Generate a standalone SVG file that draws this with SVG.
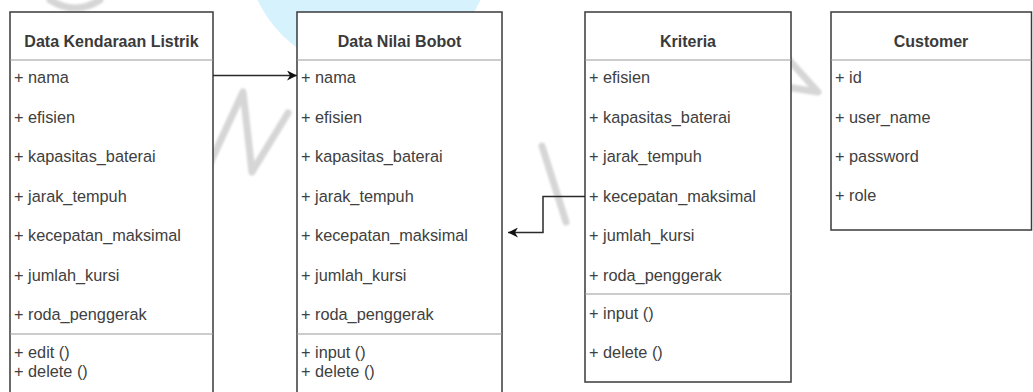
<svg xmlns="http://www.w3.org/2000/svg" width="1033" height="392" viewBox="0 0 1033 392">
  <style>
    .box { fill: #ffffff; stroke: #3a3a3a; stroke-width: 1.5; }
    .sep { stroke: #9a9a9a; stroke-width: 1.2; fill: none; }
    .title { font-family: "Liberation Sans", Arial, sans-serif; font-size: 16px; font-weight: bold; fill: #3a3a3a; text-anchor: middle; }
    .item { font-family: "Liberation Sans", Arial, sans-serif; font-size: 16.3px; fill: #404040; }
    .wm { fill: none; stroke: #d6d6d6; stroke-width: 7; stroke-linecap: round; stroke-linejoin: round; }
    .link { fill: none; stroke: #2a2a2a; stroke-width: 1.5; }
  </style>
  <defs>
    <marker id="arrow" viewBox="0 0 10 10" refX="10" refY="5" markerWidth="10" markerHeight="10" markerUnits="userSpaceOnUse" orient="auto">
      <path d="M0,0 L10,5 L0,10 L3,5 Z" fill="#111111"/>
    </marker>
    <filter id="soft" x="-10%" y="-10%" width="120%" height="120%">
      <feGaussianBlur stdDeviation="1"/>
    </filter>
  </defs>
  <rect width="1033" height="392" fill="#ffffff"/>

  <!-- background logo marks -->
  <g id="backdrop">
    <circle cx="369" cy="-52" r="123" fill="#d6f2fc"/>
    <g filter="url(#soft)">
      <path class="wm" d="M50,0 Q75,16 100,0"/>
      <polyline class="wm" points="200,185 243,92 252,172 288,113"/>
      <polyline class="wm" points="542,146 566,222"/>
      <polyline class="wm" points="780,50 818,92 780,86"/>
    </g>
  </g>

  <!-- class: Data Kendaraan Listrik -->
  <g id="data-kendaraan-listrik">
    <rect class="box" x="10" y="12" width="203" height="395"/>
    <line class="sep" x1="10" y1="60" x2="213" y2="60"/>
    <line class="sep" x1="10" y1="334" x2="213" y2="334"/>
    <text class="title" x="111.5" y="46.5">Data Kendaraan Listrik</text>
    <text class="item" x="14" y="83">+ nama</text>
    <text class="item" x="14" y="122.5">+ efisien</text>
    <text class="item" x="14" y="162">+ kapasitas_baterai</text>
    <text class="item" x="14" y="201.5">+ jarak_tempuh</text>
    <text class="item" x="14" y="241">+ kecepatan_maksimal</text>
    <text class="item" x="14" y="280.5">+ jumlah_kursi</text>
    <text class="item" x="14" y="320">+ roda_penggerak</text>
    <text class="item" x="14" y="358">+ edit ()</text>
    <text class="item" x="14" y="377">+ delete ()</text>
  </g>

  <!-- class: Data Nilai Bobot -->
  <g id="data-nilai-bobot">
    <rect class="box" x="297" y="12" width="205" height="395"/>
    <line class="sep" x1="297" y1="60" x2="502" y2="60"/>
    <line class="sep" x1="297" y1="334" x2="502" y2="334"/>
    <text class="title" x="399.5" y="46.5">Data Nilai Bobot</text>
    <text class="item" x="301" y="83">+ nama</text>
    <text class="item" x="301" y="122.5">+ efisien</text>
    <text class="item" x="301" y="162">+ kapasitas_baterai</text>
    <text class="item" x="301" y="201.5">+ jarak_tempuh</text>
    <text class="item" x="301" y="241">+ kecepatan_maksimal</text>
    <text class="item" x="301" y="280.5">+ jumlah_kursi</text>
    <text class="item" x="301" y="320">+ roda_penggerak</text>
    <text class="item" x="301" y="358">+ input ()</text>
    <text class="item" x="301" y="377">+ delete ()</text>
  </g>

  <!-- class: Kriteria -->
  <g id="kriteria">
    <rect class="box" x="585" y="12" width="206" height="370"/>
    <line class="sep" x1="585" y1="60" x2="791" y2="60"/>
    <line class="sep" x1="585" y1="294" x2="791" y2="294"/>
    <text class="title" x="688" y="46.5">Kriteria</text>
    <text class="item" x="589" y="83">+ efisien</text>
    <text class="item" x="589" y="122.5">+ kapasitas_baterai</text>
    <text class="item" x="589" y="162">+ jarak_tempuh</text>
    <text class="item" x="589" y="201.5">+ kecepatan_maksimal</text>
    <text class="item" x="589" y="241">+ jumlah_kursi</text>
    <text class="item" x="589" y="280.5">+ roda_penggerak</text>
    <text class="item" x="589" y="318.5">+ input ()</text>
    <text class="item" x="589" y="358">+ delete ()</text>
  </g>

  <!-- class: Customer -->
  <g id="customer">
    <rect class="box" x="831" y="12" width="200.5" height="218"/>
    <line class="sep" x1="831" y1="60" x2="1031.5" y2="60"/>
    <text class="title" x="931" y="46.5">Customer</text>
    <text class="item" x="835" y="83">+ id</text>
    <text class="item" x="835" y="122.5">+ user_name</text>
    <text class="item" x="835" y="162">+ password</text>
    <text class="item" x="835" y="201">+ role</text>
  </g>

  <!-- associations -->
  <g id="connectors">
    <path class="link" d="M213,75.5 L297,75.5" marker-end="url(#arrow)"/>
    <path class="link" d="M585,196.5 L543,196.5 L543,232.5 L508,232.5" marker-end="url(#arrow)"/>
  </g>
</svg>
